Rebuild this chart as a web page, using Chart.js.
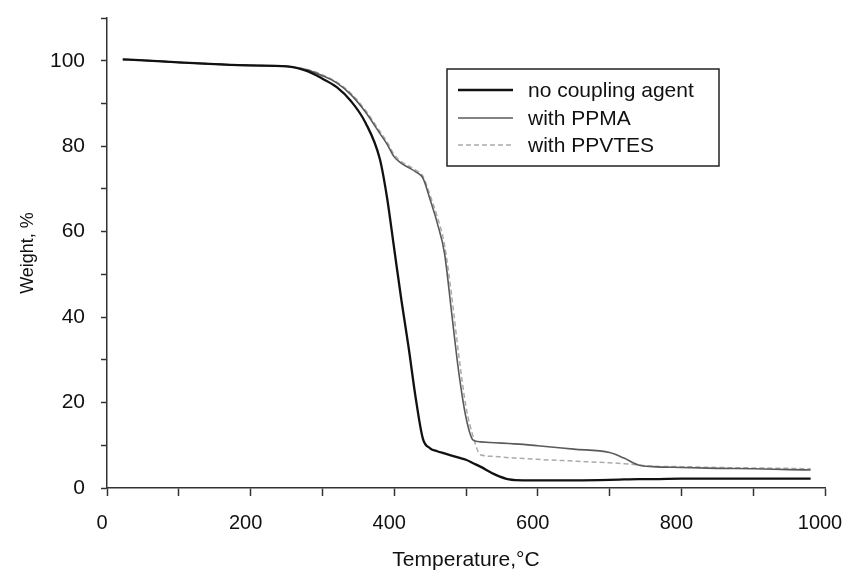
<!DOCTYPE html>
<html>
<head>
<meta charset="utf-8">
<script src="https://cdn.jsdelivr.net/npm/chart.js@4.4.1/dist/chart.umd.min.js"></script>
<style>
  html, body { margin: 0; padding: 0; background: #fff; }
  #wrap { width: 845px; height: 576px; }
</style>
</head>
<body>
<div id="wrap"><canvas id="tgaChart" width="845" height="576"></canvas></div>
<script>
// temperatures (°C)
const temps = [22, 50, 100, 150, 200, 250, 280, 300, 320, 340, 360, 380, 390, 400, 410, 420, 430, 440, 450, 460,
    470, 480, 490, 500, 510, 520, 540, 560, 580, 600, 650, 700, 720, 740, 760, 800, 850, 900, 950, 980];

const weightNoCoupling = [100.3, 100.1, 99.6, 99.2, 98.9, 98.7, 97.5, 95.8, 93.8, 90.5, 85.5, 77, 68, 56, 44, 33, 21, 11.5, 9.3, 8.6,
    8.1, 7.6, 7.1, 6.6, 5.8, 5.0, 3.2, 2.0, 1.8, 1.8, 1.8, 1.9, 2.0, 2.1, 2.1, 2.2, 2.2, 2.2, 2.2, 2.2];

const weightPPMA = [100.3, 100.1, 99.6, 99.2, 98.9, 98.7, 97.8, 96.5, 94.8, 92, 88, 83, 80.5, 77.5, 76, 75, 74, 72.5, 67.5, 62,
    55, 41, 27, 16.5, 11.2, 10.8, 10.6, 10.4, 10.2, 9.9, 9.1, 8.3, 7.0, 5.4, 5.0, 4.8, 4.6, 4.5, 4.3, 4.2];

const weightPPVTES = [100.3, 100.1, 99.6, 99.2, 98.9, 98.7, 97.9, 96.7, 95, 92.3, 88.4, 83.5, 81, 78, 76.4, 75.4, 74.4, 73, 68.5, 63.5,
    57, 45, 31, 19, 12, 7.8, 7.4, 7.1, 6.9, 6.7, 6.3, 5.9, 5.7, 5.4, 5.1, 5.0, 4.8, 4.7, 4.6, 4.5];

const seriesLabels = ['no coupling agent', 'with PPMA', 'with PPVTES'];
const xTickLabels = [0, 200, 400, 600, 800, 1000];
const yTickLabels = [0, 20, 40, 60, 80, 100];

const toPoints = (ys) => temps.map((t, i) => ({ x: t, y: ys[i] }));

// legend drawn inside the plot, like the original figure
const boxLegend = {
    id: 'boxLegend',
    afterDraw(chart) {
        const ctx = chart.ctx;
        ctx.save();
        ctx.strokeStyle = '#222';
        ctx.lineWidth = 1.5;
        ctx.strokeRect(447, 69, 272, 97);
        ctx.font = '21px "Liberation Sans", Arial, sans-serif';
        ctx.textBaseline = 'middle';
        const rows = [90, 118, 145];
        chart.data.datasets.forEach((ds, i) => {
            ctx.strokeStyle = ds.borderColor;
            ctx.lineWidth = ds.borderWidth;
            ctx.setLineDash(ds.borderDash || []);
            ctx.beginPath();
            ctx.moveTo(458, rows[i]);
            ctx.lineTo(513, rows[i]);
            ctx.stroke();
            ctx.setLineDash([]);
            ctx.fillStyle = '#111';
            ctx.fillText(ds.label, 528, rows[i] + 1);
        });
        ctx.restore();
    },
};

const axisColor = '#333';

new Chart(document.getElementById('tgaChart'), {
    type: 'line',
    data: {
        datasets: [
            {
                label: seriesLabels[0],
                data: toPoints(weightNoCoupling),
                borderColor: '#111',
                borderWidth: 2.3,
                pointRadius: 0,
                cubicInterpolationMode: 'monotone',
            },
            {
                label: seriesLabels[1],
                data: toPoints(weightPPMA),
                borderColor: '#5a5a5a',
                borderWidth: 1.6,
                pointRadius: 0,
                cubicInterpolationMode: 'monotone',
            },
            {
                label: seriesLabels[2],
                data: toPoints(weightPPVTES),
                borderColor: '#ababab',
                borderWidth: 1.5,
                borderDash: [5, 3],
                pointRadius: 0,
                cubicInterpolationMode: 'monotone',
            },
        ],
    },
    options: {
        responsive: false,
        animation: false,
        layout: { padding: { top: 18, right: 20, bottom: 0, left: 0 } },
        plugins: { legend: { display: false }, tooltip: { enabled: false } },
        scales: {
            x: {
                type: 'linear',
                min: 0,
                max: 1000,
                afterFit: (s) => {
                    s.height = 88;
                    s.paddingLeft = 0;
                    s.paddingRight = 0;
                },
                border: { color: axisColor, width: 1.5 },
                grid: { drawOnChartArea: false, tickLength: 8, tickColor: axisColor, tickWidth: 1.5 },
                ticks: {
                    stepSize: 100,
                    padding: 15,
                    labelOffset: -5,
                    maxRotation: 0,
                    color: '#111',
                    font: { family: '"Liberation Sans Narrow", "Liberation Sans", Arial, sans-serif', size: 20 },
                    callback: (v) => (xTickLabels.includes(v) ? v : ''),
                },
                title: {
                    display: true,
                    text: 'Temperature,°C',
                    color: '#111',
                    font: { family: '"Liberation Sans", Arial, sans-serif', size: 21 },
                    padding: { top: 0, bottom: 3 },
                },
            },
            y: {
                min: 0,
                max: 110,
                afterFit: (s) => {
                    s.width = 107;
                    s.paddingTop = 0;
                    s.paddingBottom = 0;
                },
                border: { color: axisColor, width: 1.5 },
                grid: { drawOnChartArea: false, tickLength: 6, tickColor: axisColor, tickWidth: 1.5 },
                ticks: {
                    stepSize: 10,
                    padding: 16,
                    color: '#111',
                    font: { family: '"Liberation Sans", Arial, sans-serif', size: 21 },
                    callback: (v) => (yTickLabels.includes(v) ? v : ''),
                },
                title: {
                    display: true,
                    text: 'Weight, %',
                    color: '#111',
                    font: { family: '"Liberation Sans", Arial, sans-serif', size: 18 },
                    padding: { top: 17, bottom: 0 },
                },
            },
        },
    },
    plugins: [boxLegend],
});
</script>
</body>
</html>
